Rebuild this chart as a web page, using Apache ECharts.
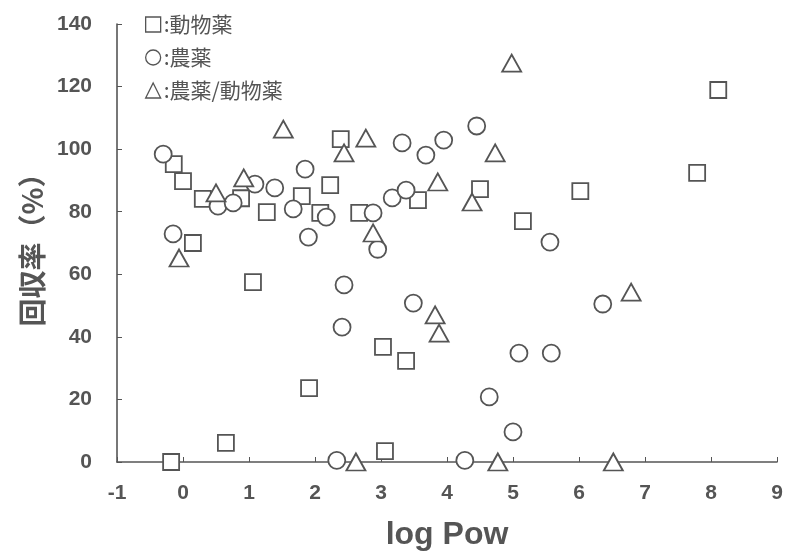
<!DOCTYPE html>
<html><head><meta charset="utf-8">
<script src="https://cdn.jsdelivr.net/npm/echarts@6/dist/echarts.min.js"></script>
<style>html,body{margin:0;padding:0;background:#fff}#c{width:788px;height:552px}</style>
</head><body><div id="c"></div>
<script>
// Data (x = log Pow, y = 回収率 %)
const seriesNames = ['動物薬', '農薬', '農薬/動物薬'];
const vetDrugs = [
  [-0.14,95.2],[0.0,89.8],[0.15,70.0],[0.30,84.1],[0.88,84.3],[1.06,57.5],[1.27,79.9],
  [1.80,85.0],[2.23,88.5],[2.08,79.6],[2.39,103.2],[1.91,23.6],[2.67,79.6],[3.03,36.8],
  [3.38,32.3],[3.56,83.7],[4.50,87.2],[5.15,77.0],[6.02,86.6],[7.79,92.4],[8.11,118.9],
  [0.65,6.1],[-0.18,0],[3.06,3.5]
];
const pesticides = [
  [-0.30,98.4],[-0.15,72.9],[0.53,81.8],[0.76,82.8],[1.09,88.8],[1.39,87.6],[1.67,80.9],
  [1.85,93.6],[1.90,71.9],[2.17,78.3],[2.88,79.6],[2.95,68.0],[3.32,102.0],[3.68,98.1],
  [3.95,102.9],[4.45,107.4],[3.17,84.4],[3.38,86.9],[5.56,70.3],[6.36,50.5],[2.41,43.1],
  [2.44,56.6],[3.49,50.8],[5.09,34.8],[5.58,34.8],[4.64,20.8],[5.00,9.6],[4.27,0.5],[2.33,0.5]
];
const both = [
  [-0.06,65.2],[0.50,86.0],[0.92,90.8],[1.52,106.4],[2.44,98.8],[2.77,103.5],[3.86,89.5],
  [4.73,98.8],[4.38,83.1],[4.98,127.5],[2.88,73.2],[3.82,47.0],[3.88,41.2],[6.79,54.3],
  [2.62,0],[4.77,0],[6.52,0]
];
const xTicks = {min:-1, max:9, interval:1};
const yTicks = {min:0, max:140, interval:20};

const ink = '#555';
const chart = echarts.init(document.getElementById('c'), null, {renderer:'canvas'});
const mk = (name, data, symbol, size) => ({
  name, type:'scatter', data, symbol, symbolSize:size, clip:false,
  itemStyle:{color:'#fff', borderColor:ink, borderWidth:1.8, opacity:1}
});
chart.setOption({
  backgroundColor:'#fff',
  animation:false,
  grid:{left:117, right:11, top:24, bottom:90, containLabel:false, outerBoundsMode:'none'},
  legend:{
    orient:'vertical', left:140, top:9, itemGap:12, itemWidth:15, itemHeight:15,
    data:seriesNames,
    formatter:n=>':'+n,
    textStyle:{color:ink, fontSize:21, fontFamily:'Noto Sans CJK JP', padding:[0,0,0,-2]},
    itemStyle:{color:'#fff', borderColor:ink, borderWidth:1.3}
  },
  xAxis:{
    type:'value', min:xTicks.min, max:xTicks.max, interval:xTicks.interval,
    name:'log Pow', nameLocation:'middle', nameGap:57,
    nameTextStyle:{fontSize:32, fontWeight:'bold', color:ink, fontFamily:'Liberation Sans'},
    axisLine:{onZero:false, lineStyle:{color:ink, width:1.6}},
    axisTick:{inside:true, length:5, lineStyle:{color:ink}},
    axisLabel:{margin:21, fontSize:21, fontWeight:'bold', color:ink, fontFamily:'Liberation Sans'},
    splitLine:{show:false}
  },
  yAxis:{
    type:'value', min:yTicks.min, max:yTicks.max, interval:yTicks.interval,
    name:'回収率（%）', nameLocation:'middle', nameGap:69, nameRotate:90,
    nameTextStyle:{fontSize:28, fontWeight:'bold', color:ink, fontFamily:'Noto Sans CJK JP'},
    axisLine:{show:true, onZero:false, lineStyle:{color:ink, width:1.6}},
    axisTick:{show:true, inside:true, length:5, lineStyle:{color:ink}},
    axisLabel:{margin:25, fontSize:21, fontWeight:'bold', color:ink, fontFamily:'Liberation Sans'},
    splitLine:{show:false}
  },
  series:[
    mk(seriesNames[0], vetDrugs, 'rect', 16),
    mk(seriesNames[1], pesticides, 'circle', 17),
    mk(seriesNames[2], both, 'triangle', [19,17])
  ]
});
</script></body></html>
